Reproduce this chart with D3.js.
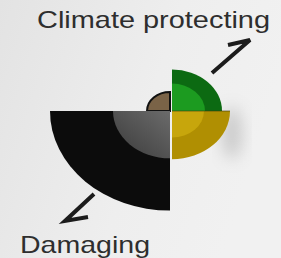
<!doctype html>
<html>
<head>
<style>
  body {
    margin: 0;
    background-color: #ebebeb;
  }
  svg {
    display: block;
  }
  .label {
    font-family: "Liberation Sans", Arial, sans-serif;
    font-size: 24px;
    fill: #2e2e2e;
  }
  .arrow {
    fill: none;
    stroke: #1c1c1c;
    stroke-width: 4px;
  }
</style>
<script src="https://d3js.org/d3.v7.min.js"></script>
</head>
<body>
<script>

  // quadrants go clockwise starting at 12 o'clock
  var quadrants = ["protecting", "partly", "damaging", "minor"];
  var outerValues = [50, 58, 120, 23];
  var innerValues = [33, 32, 57, 0];
  var outerColors = ["#0c6a12", "#b08f02", "#0c0c0c", "#7a6347"];
  var innerColors = ["#1c9b20", "#c7a60c", "url(#grayGrad)", "none"];
  var labels = ["Climate protecting", "Damaging"];

  var svg_width = 281;
  var svg_height = 258;
  var cx = 170, cy = 111;
  var squash = 0.83;

  var svg = d3.select("body")
              .append("svg")
              .attr("width", svg_width)
              .attr("height", svg_height);

  var defs = svg.append("defs");

  var bg = defs.append("linearGradient").attr("id", "bgGrad")
    .attr("x1", 0).attr("y1", 0).attr("x2", 1).attr("y2", 0.3);
  bg.append("stop").attr("offset", "0%").attr("stop-color", "#e3e3e3");
  bg.append("stop").attr("offset", "60%").attr("stop-color", "#eeeeee");
  bg.append("stop").attr("offset", "100%").attr("stop-color", "#f1f1f1");

  var gg = defs.append("linearGradient").attr("id", "grayGrad")
    .attr("x1", 0).attr("y1", 1).attr("x2", 1).attr("y2", 0);
  gg.append("stop").attr("offset", "0%").attr("stop-color", "#3a3a3a");
  gg.append("stop").attr("offset", "100%").attr("stop-color", "#6b6b6b");

  defs.append("filter").attr("id", "blur")
    .attr("x", "-50%").attr("y", "-50%").attr("width", "200%").attr("height", "200%")
    .append("feGaussianBlur").attr("stdDeviation", 8);

  svg.append("rect")
    .attr("width", svg_width)
    .attr("height", svg_height)
    .attr("fill", "url(#bgGrad)");

  var r = d3.scaleLinear().domain([0, 120]).range([0, 120]);

  // soft shadow to the right of the yellow part
  svg.append("ellipse")
    .attr("cx", cx + 62).attr("cy", cy + 22)
    .attr("rx", 10).attr("ry", 26)
    .attr("fill", "#9a9a9a")
    .attr("opacity", 0.45)
    .attr("filter", "url(#blur)");

  var g = svg.append("g")
    .attr("transform", "translate(" + cx + "," + cy + ") scale(1," + squash + ")");

  var arc = d3.arc();

  function gap(i) {
    // right half nudged right, small seam in the middle
    return i < 2 ? "translate(2,0)" : "translate(0,0)";
  }

  g.selectAll(".outer")
    .data(quadrants)
    .enter().append("path")
    .attr("class", "outer")
    .attr("transform", function(d, i) { return gap(i); })
    .attr("d", function(d, i) {
      return arc({innerRadius: 0, outerRadius: r(outerValues[i]),
                  startAngle: i * Math.PI / 2, endAngle: (i + 1) * Math.PI / 2});
    })
    .attr("fill", function(d, i) { return outerColors[i]; })
    .attr("stroke", function(d, i) { return i == 3 ? "#111" : "none"; })
    .attr("stroke-width", 2)
    .attr("vector-effect", "non-scaling-stroke");

  g.selectAll(".inner")
    .data(quadrants.filter(function(d, i) { return innerValues[i] > 0; }))
    .enter().append("path")
    .attr("class", "inner")
    .attr("transform", function(d) { return gap(quadrants.indexOf(d)); })
    .attr("d", function(d) {
      var i = quadrants.indexOf(d);
      return arc({innerRadius: 0, outerRadius: r(innerValues[i]),
                  startAngle: i * Math.PI / 2, endAngle: (i + 1) * Math.PI / 2});
    })
    .attr("fill", function(d) { return innerColors[quadrants.indexOf(d)]; });

  // seam between green and yellow
  svg.append("line")
    .attr("x1", cx + 2).attr("x2", cx + 2 + r(outerValues[1]))
    .attr("y1", cy).attr("y2", cy)
    .attr("stroke", "#3a3a10").attr("stroke-width", 1.2).attr("opacity", 0.6);

  // arrows
  svg.append("path")
    .attr("class", "arrow")
    .attr("d", "M212,73 L250,40 L228,45");

  svg.append("path")
    .attr("class", "arrow")
    .attr("d", "M94,194 L65,221 L88,217");

  svg.append("text")
    .attr("class", "label")
    .attr("x", 37)
    .attr("y", 28)
    .attr("textLength", 233)
    .attr("lengthAdjust", "spacingAndGlyphs")
    .text(labels[0]);

  svg.append("text")
    .attr("class", "label")
    .attr("x", 20)
    .attr("y", 253)
    .attr("textLength", 130)
    .attr("lengthAdjust", "spacingAndGlyphs")
    .text(labels[1]);

</script>
</body>
</html>
